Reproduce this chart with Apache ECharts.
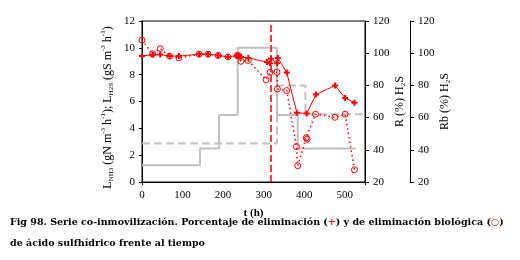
<!DOCTYPE html>
<html>
<head>
<meta charset="utf-8">
<script src="https://cdn.jsdelivr.net/npm/echarts@6/dist/echarts.min.js"></script>
<style>
html,body{margin:0;padding:0;background:#fff;}
#c{width:520px;height:260px;}
</style>
</head>
<body>
<div id="c"></div>
<script>
// Elimination percentage R (%) H2S  (+ markers, solid red)
var tR = [0, 26, 45, 68, 91, 141, 163, 188, 212, 235, 238, 244, 262, 308, 316, 318, 333, 335, 357, 382, 406, 429, 476, 501, 524];
var R  = [98.3, 99.0, 99.2, 98.2, 98.2, 99.4, 99.4, 98.6, 97.7, 98.6, 98.3, 97.8, 97.0, 94.6, 93.8, 96.5, 93.8, 97.0, 88.0, 63.0, 62.5, 74.3, 79.9, 72.2, 69.3];
// Biological elimination Rb (%) H2S  (o markers, dotted red)
var tRb = [0, 26, 45, 68, 91, 141, 163, 188, 212, 235, 238, 244, 262, 306, 316, 333, 334, 357, 381, 384, 405, 407, 428, 476, 501, 524];
var Rb  = [108.1, 99.6, 102.9, 98.2, 97.1, 99.4, 99.4, 98.6, 97.7, 98.6, 98.3, 95.0, 95.5, 83.5, 88.2, 88.2, 77.8, 76.8, 42.0, 30.1, 47.5, 46.6, 62.1, 60.2, 62.1, 27.6];
// Loads (step changes): L_NH3 solid grey, L_H2S dashed grey
var tNH3 = [0, 143, 190, 236, 333, 384, 527];
var NH3  = [1.25, 2.5, 5, 10, 5, 2.5, 2.5];
var tH2S = [0, 333, 403, 550];
var H2S  = [2.87, 7.2, 5.05, 5.05];
// Vertical marker time
var tMark = 318;
var xTicks = [0, 100, 200, 300, 400, 500];

function pairs(xs, ys){ return xs.map(function(x,i){ return [x, ys[i]]; }); }

var FF = '"Liberation Serif", "DejaVu Serif", serif';
var CF = '"DejaVu Serif", "Liberation Serif", serif';
var chart = echarts.init(document.getElementById('c'), null, {renderer:'canvas'});

var nameRich = {
  m:{fontFamily:FF, fontSize:12, lineHeight:15, color:'#000'},
  s:{fontFamily:FF, fontSize:7, color:'#000', verticalAlign:'bottom'},
  p:{fontFamily:FF, fontSize:7, color:'#000', verticalAlign:'top'}
};

chart.setOption({
  animation:false,
  backgroundColor:'#fff',
  grid:{left:142, right:155, top:21, bottom:78, show:true, borderColor:'#000', borderWidth:1, outerBoundsMode:'none'},
  xAxis:{
    type:'value', min:0, max:550, interval:100,
    name:'t (h)', nameLocation:'middle', nameGap:26,
    nameTextStyle:{fontFamily:FF, fontSize:11, fontWeight:'bold', color:'#000'},
    axisLine:{lineStyle:{color:'#000', width:1}},
    axisTick:{show:true, customValues:[0,550], length:3, inside:false, lineStyle:{color:'#000'}},
    axisLabel:{fontFamily:FF, fontSize:11, color:'#000', margin:8,
      customValues: xTicks},
    splitLine:{show:false}
  },
  yAxis:[
    {
      type:'value', min:0, max:12, interval:2, position:'left',
      name:'{m|L}{s|NH3}{m| (gN m}{p|-3}{m| h}{p|-1}{m|); L}{s|H2S}{m| (gS m}{p|-3}{m| h}{p|-1}{m|)}',
      nameLocation:'middle', nameRotate:90, nameGap:27,
      nameTextStyle:{rich:nameRich, padding:[0,12,0,0]},
      axisLine:{show:true, lineStyle:{color:'#000', width:1}},
      axisTick:{show:true, length:3, lineStyle:{color:'#000'}},
      axisLabel:{fontFamily:FF, fontSize:11, color:'#000', margin:7},
      splitLine:{show:false}
    },
    {
      type:'value', min:20, max:120, interval:20, position:'right', offset:0,
      name:'{m|R (%) H}{s|2}{m|S}', nameLocation:'middle', nameRotate:90, nameGap:27,
      nameTextStyle:{rich:nameRich},
      axisLine:{show:true, lineStyle:{color:'#000', width:1}},
      axisTick:{show:true, length:4, lineStyle:{color:'#000'}},
      axisLabel:{fontFamily:FF, fontSize:11, color:'#000', margin:8},
      splitLine:{show:false}
    },
    {
      type:'value', min:20, max:120, interval:20, position:'right', offset:45,
      name:'{m|Rb (%) H}{s|2}{m|S}', nameLocation:'middle', nameRotate:90, nameGap:27,
      nameTextStyle:{rich:nameRich},
      axisLine:{show:true, lineStyle:{color:'#000', width:1}},
      axisTick:{show:true, length:4, lineStyle:{color:'#000'}},
      axisLabel:{fontFamily:FF, fontSize:11, color:'#000', margin:8},
      splitLine:{show:false}
    }
  ],
  series:[
    {
      type:'line', yAxisIndex:0, step:'end', data:pairs(tNH3, NH3), showSymbol:false, symbol:'none',
      lineStyle:{color:'#BFBFBF', width:2}, z:1
    },
    {
      type:'line', yAxisIndex:0, step:'end', data:pairs(tH2S, H2S), showSymbol:false, symbol:'none',
      lineStyle:{color:'#BFBFBF', width:2, type:[8,4]}, z:1,
      markLine:{
        silent:true, symbol:['none','none'], label:{show:false},
        lineStyle:{color:'#FF0000', width:1.5, type:[7,3]},
        data:[[{coord:[tMark, 11.7]}, {coord:[tMark, 0]}]]
      }
    },
    {
      type:'line', yAxisIndex:2, data:pairs(tRb, Rb),
      symbol:'circle', symbolSize:6,
      itemStyle:{color:'rgba(255,255,255,0)', borderColor:'#FF0000', borderWidth:1},
      lineStyle:{color:'#FF0000', width:1.5, type:[1.5,3]}, z:3
    },
    {
      type:'line', yAxisIndex:1, data:pairs(tR, R),
      symbol:'path://M2,0H4V2H6V4H4V6H2V4H0V2H2Z', symbolSize:6,
      itemStyle:{color:'#FF0000'},
      lineStyle:{color:'#FF0000', width:1}, z:4
    }
  ],
  graphic:[
    {
      type:'text', left:10, top:218,
      style:{
        text:'{b|Fig 98. Serie co-inmovilización. Porcentaje de eliminación (}{r|+}{b|) y de eliminación biológica (}{r|○}{b|)}',
        rich:{
          b:{fontFamily:CF, fontSize:9.5, fontWeight:'bold', fill:'#000'},
          r:{fontFamily:CF, fontSize:9.5, fontWeight:'bold', fill:'#FF0000'}
        }
      }
    },
    {
      type:'text', left:10, top:239,
      style:{text:'de ácido sulfhídrico frente al tiempo', font:'bold 9.5px ' + CF, fill:'#000'}
    }
  ]
});
</script>
</body>
</html>
